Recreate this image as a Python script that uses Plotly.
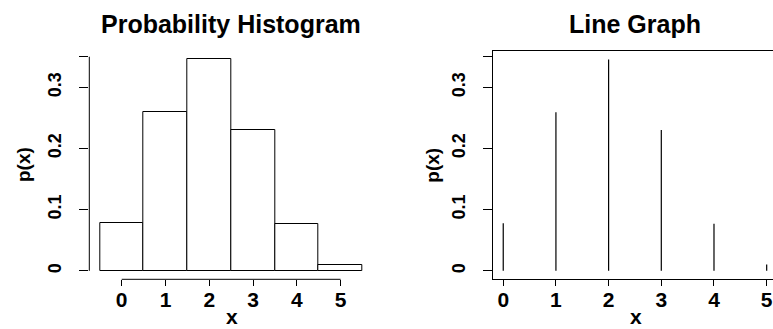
import plotly.graph_objects as go

# Data
x_vals = [0, 1, 2, 3, 4, 5]
p_vals = [0.0778, 0.2592, 0.3456, 0.2304, 0.0768, 0.0102]
x_ticks = [0, 1, 2, 3, 4, 5]
x_tick_text = ["0", "1", "2", "3", "4", "5"]
y_ticks = [0, 0.1, 0.2, 0.3, 0.35]
y_tick_text = ["0", "0.1", "0.2", "0.3", ""]

W, H = 773, 329
FONT = "Liberation Sans, Arial, Helvetica, sans-serif"


def px_x(p):
    return p / W


def px_y(p):
    return (H - p) / H


fig = go.Figure()

# Left: probability histogram
fig.add_trace(go.Bar(
    x=x_vals, y=p_vals, width=1,
    marker=dict(color="white", line=dict(color="black", width=1)),
    xaxis="x", yaxis="y", showlegend=False, hoverinfo="x+y",
))

# Right: line graph (vertical spikes)
sx, sy = [], []
for xv, pv in zip(x_vals, p_vals):
    sx += [xv, xv, None]
    sy += [0, pv, None]
fig.add_trace(go.Scatter(
    x=sx, y=sy, mode="lines", line=dict(color="black", width=1.2),
    xaxis="x2", yaxis="y2", showlegend=False, hoverinfo="skip",
))

y_dom = [px_y(279.3), px_y(51)]
y_range = [-0.013824, 0.359424]

tickfont_x = dict(family=FONT, size=21, color="black", weight="bold")
tickfont_y = dict(family=FONT, size=18, color="black", weight="bold")

fig.update_layout(
    width=W, height=H,
    margin=dict(l=0, r=0, t=0, b=0),
    paper_bgcolor="white", plot_bgcolor="white",
    bargap=0,
    xaxis=dict(
        domain=[px_x(89.3), px_x(373)], range=[-0.74, 5.74],
        tickvals=x_ticks, ticktext=x_tick_text, ticks="outside", ticklen=6,
        tickcolor="black", tickwidth=1, showline=False, showgrid=False,
        zeroline=False, tickfont=tickfont_x, ticklabelstandoff=-5,
        anchor="y",
    ),
    yaxis=dict(
        domain=y_dom, range=y_range,
        tickvals=y_ticks, ticktext=y_tick_text, ticks="outside", ticklen=9,
        tickcolor="black", tickwidth=1, showline=False, showgrid=False,
        zeroline=False, tickangle=-90, tickfont=tickfont_y,
        ticklabelstandoff=11, anchor="x",
    ),
    xaxis2=dict(
        domain=[px_x(492.7), 1.0], range=[-0.2, 5.12],
        tickvals=x_ticks, ticktext=x_tick_text, ticks="outside", ticklen=6,
        tickcolor="black", tickwidth=1, showline=True, linecolor="black",
        linewidth=1, mirror=True, showgrid=False, zeroline=False,
        tickfont=tickfont_x, ticklabelstandoff=-5, anchor="y2",
    ),
    yaxis2=dict(
        domain=y_dom, range=y_range,
        tickvals=y_ticks, ticktext=y_tick_text, ticks="outside", ticklen=9,
        tickcolor="black", tickwidth=1, showline=True, linecolor="black",
        linewidth=1, mirror=False, showgrid=False, zeroline=False,
        tickangle=-90, tickfont=tickfont_y, ticklabelstandoff=11,
        anchor="x2",
    ),
    shapes=[
        # R-style axis lines for the histogram panel
        dict(type="line", xref="x domain", yref="y", x0=0, x1=0,
             y0=0, y1=0.35, line=dict(color="black", width=1)),
        dict(type="line", xref="x", yref="y domain", x0=0, x1=5,
             y0=0, y1=0, line=dict(color="black", width=1)),
    ],
    annotations=[
        dict(text="Probability Histogram", x=px_x(231), y=px_y(24),
             xref="paper", yref="paper", showarrow=False,
             xanchor="center", yanchor="middle",
             font=dict(family=FONT, size=25, color="black", weight="bold")),
        dict(text="Line Graph", x=px_x(635), y=px_y(24),
             xref="paper", yref="paper", showarrow=False,
             xanchor="center", yanchor="middle",
             font=dict(family=FONT, size=25, color="black", weight="bold")),
        dict(text="x", x=px_x(232), y=px_y(316.5),
             xref="paper", yref="paper", showarrow=False,
             xanchor="center", yanchor="middle",
             font=dict(family=FONT, size=21, color="black", weight="bold")),
        dict(text="x", x=px_x(636), y=px_y(316.5),
             xref="paper", yref="paper", showarrow=False,
             xanchor="center", yanchor="middle",
             font=dict(family=FONT, size=21, color="black", weight="bold")),
        dict(text="p(x)", x=px_x(23), y=px_y(165), textangle=-90,
             xref="paper", yref="paper", showarrow=False,
             xanchor="center", yanchor="middle",
             font=dict(family=FONT, size=19, color="black", weight="bold")),
        dict(text="p(x)", x=px_x(431.7), y=px_y(165), textangle=-90,
             xref="paper", yref="paper", showarrow=False,
             xanchor="center", yanchor="middle",
             font=dict(family=FONT, size=19, color="black", weight="bold")),
    ],
)

fig.write_html("out.html", config={"displayModeBar": False})
